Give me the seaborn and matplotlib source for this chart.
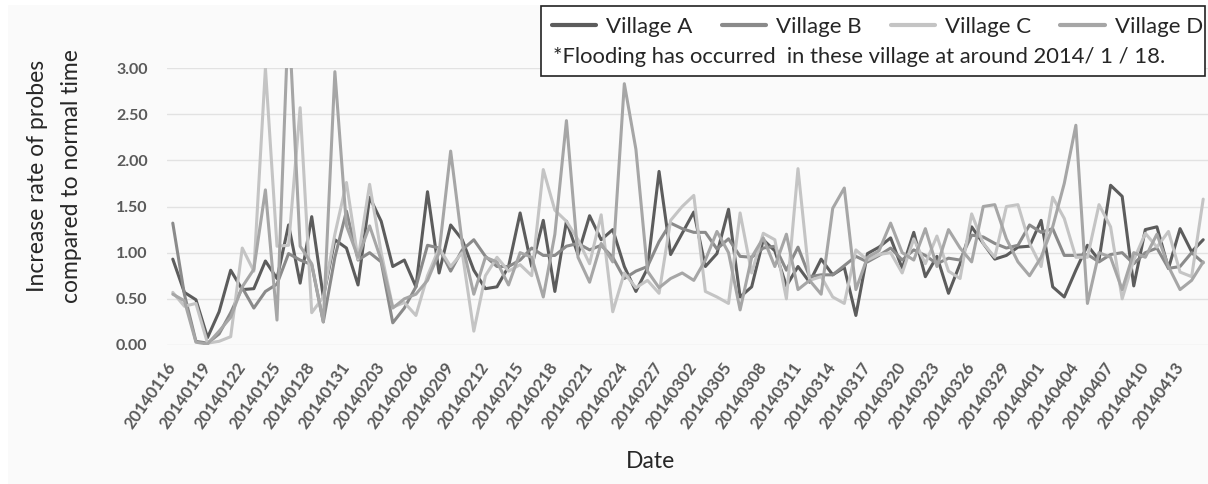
import numpy as np
import pandas as pd
import matplotlib
matplotlib.use("Agg")
import matplotlib.pyplot as plt
import matplotlib.patches as mpatches
from matplotlib.lines import Line2D
import seaborn as sns

# daily increase rate of probes, 2014-01-16 .. 2014-04-15
dates = pd.date_range("2014-01-16", periods=90).strftime("%Y%m%d").tolist()

village_a = [0.93, 0.57, 0.49, 0.08, 0.36, 0.81, 0.60, 0.61, 0.91, 0.72,
             1.30, 0.67, 1.39, 0.52, 1.14, 1.05, 0.65, 1.60, 1.34, 0.85,
             0.92, 0.63, 1.66, 0.78, 1.30, 1.14, 0.81, 0.61, 0.63, 0.85,
             1.43, 0.85, 1.35, 0.58, 1.34, 0.98, 1.40, 1.14, 1.25, 0.85,
             0.58, 0.83, 1.88, 0.98, 1.21, 1.44, 0.85, 0.99, 1.47, 0.52,
             0.63, 1.14, 1.02, 0.64, 0.85, 0.68, 0.93, 0.76, 0.84, 0.32,
             0.99, 1.06, 1.16, 0.83, 1.22, 0.74, 0.96, 0.56, 0.88, 1.28,
             1.10, 0.93, 0.97, 1.06, 1.07, 1.35, 0.63, 0.52, 0.81, 1.08,
             0.92, 1.73, 1.61, 0.64, 1.25, 1.28, 0.83, 1.26, 1.01, 1.14]

village_b = [1.32, 0.55, 0.04, 0.02, 0.12, 0.35, 0.62, 0.40, 0.58, 0.66,
             0.99, 0.92, 0.87, 0.25, 0.95, 1.45, 0.92, 1.00, 0.90, 0.24,
             0.40, 0.63, 1.08, 1.05, 0.80, 1.03, 1.14, 0.96, 0.85, 0.85,
             0.92, 1.05, 0.97, 0.97, 1.07, 1.10, 1.03, 1.08, 0.95, 0.72,
             0.80, 0.85, 1.12, 1.32, 1.26, 1.22, 1.22, 1.04, 1.15, 0.96,
             0.95, 1.05, 1.07, 0.81, 1.06, 0.74, 0.76, 0.76, 0.86, 0.96,
             0.90, 0.97, 1.05, 0.92, 1.03, 0.97, 0.88, 0.94, 0.92, 1.19,
             1.17, 1.10, 1.05, 1.08, 1.30, 1.22, 1.26, 0.97, 0.97, 0.98,
             0.90, 0.98, 1.00, 0.88, 1.00, 1.05, 0.83, 0.85, 1.00, 0.89]

village_c = [0.57, 0.42, 0.45, 0.02, 0.04, 0.09, 1.05, 0.80, 3.00, 1.07,
             1.08, 2.57, 0.35, 0.52, 1.20, 1.76, 0.93, 1.74, 1.00, 0.41,
             0.46, 0.32, 0.75, 1.05, 0.85, 1.00, 0.15, 0.75, 0.95, 0.80,
             0.87, 0.75, 1.90, 1.46, 1.34, 1.14, 0.88, 1.41, 0.36, 0.78,
             0.62, 0.70, 0.56, 1.35, 1.50, 1.62, 0.58, 0.52, 0.45, 1.43,
             0.78, 1.21, 1.14, 0.50, 1.91, 0.70, 0.74, 0.52, 0.45, 1.03,
             0.92, 0.98, 1.00, 0.78, 1.15, 0.88, 1.18, 0.80, 0.72, 1.42,
             1.10, 0.95, 1.50, 1.52, 1.10, 0.85, 1.60, 1.37, 0.95, 0.95,
             1.52, 1.28, 0.50, 0.92, 1.21, 1.06, 1.23, 0.79, 0.74, 1.58]

village_d = [0.55, 0.48, 0.03, 0.01, 0.15, 0.30, 0.63, 0.82, 1.68, 0.27,
             3.60, 1.07, 0.88, 0.25, 2.96, 1.29, 0.95, 1.29, 0.92, 0.40,
             0.50, 0.55, 0.70, 1.00, 2.10, 1.10, 0.55, 0.95, 0.90, 0.65,
             1.00, 0.95, 0.52, 1.20, 2.43, 0.95, 0.68, 1.10, 0.90, 2.83,
             2.12, 0.80, 0.62, 0.72, 0.78, 0.70, 0.92, 1.23, 1.00, 0.38,
             0.95, 1.16, 0.85, 1.20, 0.60, 0.70, 0.55, 1.48, 1.70, 0.60,
             0.95, 1.02, 1.32, 1.00, 0.92, 1.26, 0.85, 1.25, 1.05, 0.90,
             1.50, 1.52, 1.15, 0.90, 0.75, 0.95, 1.28, 1.75, 2.38, 0.45,
             1.00, 0.95, 0.60, 1.00, 0.95, 1.20, 0.85, 0.60, 0.70, 0.90]

villages = ["Village A", "Village B", "Village C", "Village D"]
colors = ["#5c5c5c", "#8a8a8a", "#c4c4c4", "#a6a6a6"]
note = "*Flooding has occurred  in these village at around 2014/ 1 / 18."

df = pd.DataFrame({
    "day": np.tile(np.arange(len(dates)), 4),
    "rate": village_a + village_b + village_c + village_d,
    "village": np.repeat(villages, len(dates)),
})

sns.set_style("white")
plt.rcParams["font.family"] = ["Lato", "DejaVu Sans"]

W, H = 1208, 484
fig = plt.figure(figsize=(W / 100, H / 100), dpi=100, facecolor="white")
fig.add_artist(mpatches.Rectangle((8 / W, 0), 1, 1 - 5 / H, transform=fig.transFigure,
                                  facecolor="#fafafa", edgecolor="none", zorder=-10))

ax = fig.add_axes([167 / W, 1 - 345 / H, (1209 - 167) / W, (345 - 68) / H])
ax.set_facecolor("#fafafa")

sns.lineplot(data=df, x="day", y="rate", hue="village", hue_order=villages,
             palette=colors, linewidth=2.2, ax=ax, legend=False)

ax.set_xlim(-0.5, len(dates) - 0.5)
ax.set_ylim(0, 3.0)
ax.set_yticks(np.arange(0, 3.01, 0.5))
ax.set_yticklabels([f"{v:.2f}" for v in np.arange(0, 3.01, 0.5)])
ax.set_xticks(range(0, len(dates), 3))
ax.set_xticklabels(dates[::3], rotation=55, ha="right", va="center", rotation_mode="anchor")
ax.tick_params(axis="y", length=0, pad=14, labelsize=11.5, labelcolor="#595959")
ax.tick_params(axis="x", length=0, pad=14, labelsize=12, labelcolor="#595959")
for lab in ax.get_xticklabels() + ax.get_yticklabels():
    lab.set_fontweight("bold")
ax.yaxis.grid(True, color="#e2e2e2", linewidth=1)
ax.xaxis.grid(False)
for s in ax.spines.values():
    s.set_visible(False)
ax.set_xlabel("")
ax.set_ylabel("")

fig.text(38 / W, 1 - 176 / H, "Increase rate of probes", rotation=90,
         ha="center", va="center", fontsize=16.5)
fig.text(71 / W, 1 - 176 / H, "compared to normal time", rotation=90,
         ha="center", va="center", fontsize=16.5)
fig.text(650 / W, 1 - 462 / H, "Date", ha="center", va="center", fontsize=16.5)

# legend box with the flooding note underneath the entries
fig.add_artist(mpatches.Rectangle((541 / W, 1 - 76 / H), (1205 - 541) / W, 70 / H,
                                  transform=fig.transFigure, facecolor="white",
                                  edgecolor="#222222", linewidth=1.2, zorder=5))
handles = [Line2D([], [], color=c, linewidth=3) for c in colors]
leg = fig.legend(handles, villages, loc="center left", bbox_to_anchor=(552 / W, 1 - 27 / H),
                 ncol=4, frameon=False, fontsize=16, handlelength=2.0, handletextpad=0.45,
                 columnspacing=1.3, borderpad=0, borderaxespad=0)
leg.set_zorder(6)
fig.text(553 / W, 1 - 57 / H, note, ha="left", va="center", fontsize=15.8, zorder=6)

fig.savefig("out.png", dpi=100, facecolor="white")
